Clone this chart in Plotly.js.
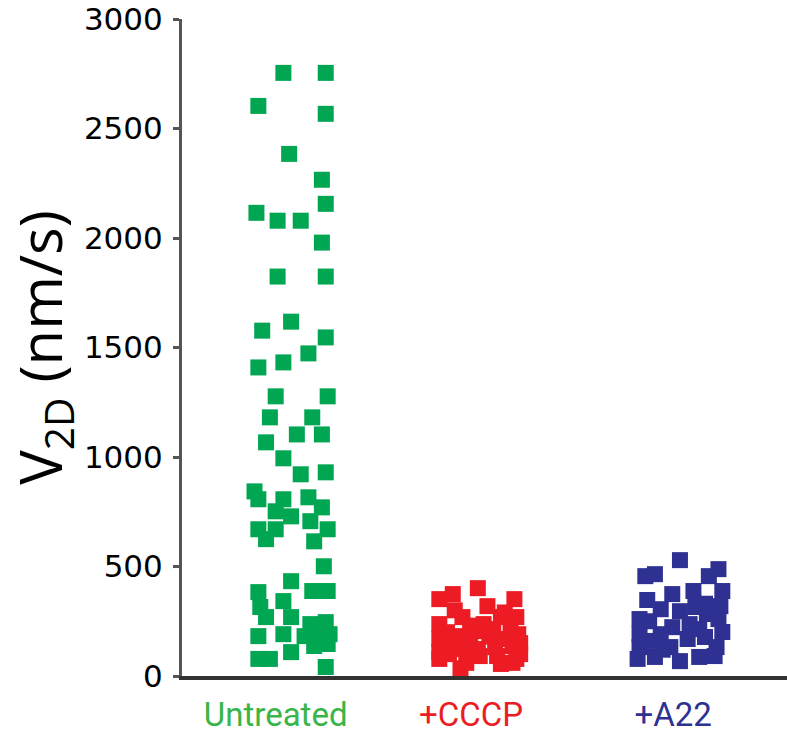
<!DOCTYPE html>
<html>
<head>
<meta charset="utf-8">
<script src="https://cdn.plot.ly/plotly-3.0.1.min.js"></script>
<style>
  html, body { margin: 0; padding: 0; background: #ffffff; }
  #chart { width: 787px; height: 745px; }
</style>
</head>
<body>
<div id="chart"></div>
<script>
// ---- Data ----
const categories = ["Untreated", "+CCCP", "+A22"];
const categoryPos = [1, 2, 3];              // group centres on the x axis
const labelPos = [0.91, 1.925, 2.975];      // where the category labels sit
const categoryColors = ["#00a651", "#ed1c24", "#2e3192"];
const labelColors = ["#39b54a", "#ed1c24", "#2e3192"];

// V2D values (nm/s)
const untreatedV = [2754, 2754, 2603, 2567, 2384, 2266, 2156, 2115, 2079, 2079,
  1979, 1824, 1824, 1618, 1577, 1546, 1473, 1432, 1409, 1277,
  1277, 1181, 1181, 1103, 1103, 1067, 994, 921, 930, 843,
  807, 807, 816, 770, 752, 729, 707, 670, 670, 670,
  625, 615, 501, 433, 383, 388, 388, 315, 342, 269,
  269, 237, 246, 182, 191, 182, 182, 191, 137, 146,
  78, 78, 109, 41];
// horizontal jitter of each point, hundredths of the category spacing
const untreatedJ = [-5, 17, -18, 17, -2, 15, 17, -19, -8, 4,
  15, -8, 17, -1, -16, 17, 8, -5, -18, -9,
  18, -12, 10, 2, 15, -14, -5, 4, 17, -20,
  -18, -5, 8, 15, -9, -1, 9, -18, -9, 18,
  -14, 11, 16, -1, -18, 10, 18, -17, -5, -14,
  -1, 9, 17, -18, -5, 6, 13, 19, 11, 18,
  -18, -12, -1, 17];

const cccpV = [351, 374, 401, 351, 319, 269, 237, 237, 269, 269,
  169, 182, 205, 214, 223, 191, 109, 123, 123, 132,
  137, 100, 78, 100, 35, 91, 91, 78, 169, 169,
  300, 230, 290, 180, 150, 150, 60, 55, 200, 60];
const cccpJ = [-24, -17, -4, 15, 1, -12, -24, -1, 8, 16,
  -24, -13, -4, 4, 13, 17, -24, -12, -4, 5,
  14, 18, -24, -19, -13, -3, 6, 16, -8, 9,
  -16, -8, 10, 2, -20, 18, -10, 8, -20, 14];

const a22V = [529, 456, 465, 456, 347, 374, 388, 260, 305, 296,
  315, 191, 223, 237, 283, 132, 191, 169, 78, 87,
  68, 132, 87, 178, 488, 388, 319, 260, 201, 132,
  91, 214, 250, 160, 120, 330];
const a22J = [1, -17, -12, 16, -16, -3, 8, -20, -9, 1,
  9, -20, -3, 6, 15, -20, -9, 5, -21, -12,
  1, -4, 11, 14, 21, 23, 22, 21, 23, 20,
  19, 11, -15, -14, -8, 14];

const yTicks = [0, 500, 1000, 1500, 2000, 2500, 3000];

// ---- Build traces ----
const groups = [
  { v: untreatedV, j: untreatedJ },
  { v: cccpV, j: cccpJ },
  { v: a22V, j: a22J }
];

const traces = groups.map((g, i) => ({
  type: "scatter",
  mode: "markers",
  name: categories[i],
  x: g.j.map(d => categoryPos[i] + d / 100),
  y: g.v,
  marker: { symbol: "square", size: 16, color: categoryColors[i], line: { width: 0 } },
  cliponaxis: false,
  hoverinfo: "y+name"
}));

const layout = {
  width: 787,
  height: 745,
  margin: { l: 182, r: 0, t: 19, b: 69 },
  paper_bgcolor: "#ffffff",
  plot_bgcolor: "#ffffff",
  showlegend: false,
  font: { family: "Open Sans, sans-serif", color: "#000000" },
  xaxis: {
    range: [0.4234, 3.566],
    showgrid: false,
    zeroline: false,
    showline: true,
    linecolor: "#333333",
    linewidth: 4,
    ticks: "",
    tickvals: labelPos,
    ticktext: categories.map((c, i) => '<span style="color:' + labelColors[i] + '">' + c + '</span>'),
    tickfont: { family: "Roboto, sans-serif", size: 33 },
    ticklabelstandoff: 6,
    fixedrange: true
  },
  yaxis: {
    range: [0, 3000],
    tickvals: yTicks,
    ticktext: yTicks.map(String),
    showgrid: false,
    zeroline: false,
    showline: true,
    linecolor: "#555555",
    linewidth: 3,
    ticks: "outside",
    ticklen: 6,
    tickwidth: 3,
    tickcolor: "#555555",
    tickfont: { family: "DejaVu Sans, sans-serif", size: 31, color: "#000000" },
    ticklabelstandoff: 4,
    title: {
      text: "V<sub>2D</sub> (nm/s)",
      font: { family: "Open Sans, sans-serif", size: 58, color: "#000000" },
      standoff: 4
    },
    fixedrange: true
  }
};

Plotly.newPlot("chart", traces, layout, { displayModeBar: false, staticPlot: true });
</script>
</body>
</html>
